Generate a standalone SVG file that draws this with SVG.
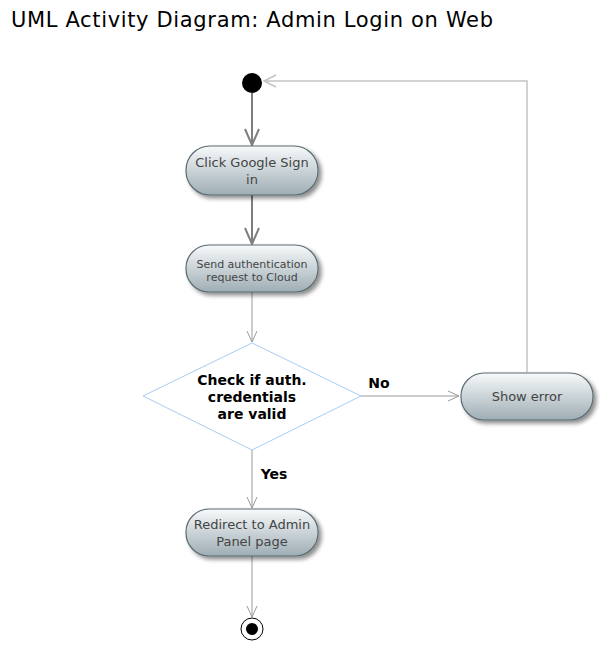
<svg xmlns="http://www.w3.org/2000/svg" width="602" height="647" viewBox="0 0 602 647">
<style>
text{font-family:"DejaVu Sans","Verdana",sans-serif;}
.title{font-size:21px;fill:#000;}
.act{fill:url(#g);stroke:#5b6b72;stroke-width:1.2;filter:url(#sh);}
.lbl{font-size:13px;fill:#444;text-anchor:middle;}
.lbls{font-size:11px;fill:#444;text-anchor:middle;}
.dec{font-size:14px;font-weight:bold;fill:#000;text-anchor:middle;}
.thick{stroke:#7f7f7f;stroke-width:2;fill:none;}
.thin{stroke:#9a9a9a;stroke-width:1;fill:none;}
.ret{stroke:#c4c4c4;stroke-width:1.5;fill:none;}
</style>
<defs>
<linearGradient id="g" x1="0" y1="0" x2="0" y2="1">
<stop offset="0" stop-color="#f7fafb"/>
<stop offset="1" stop-color="#9eadb4"/>
</linearGradient>
<filter id="sh" x="-20%" y="-30%" width="150%" height="170%">
<feGaussianBlur in="SourceAlpha" stdDeviation="2"/>
<feOffset dx="3" dy="3" result="b"/>
<feComponentTransfer><feFuncA type="linear" slope="0.45"/></feComponentTransfer>
<feMerge><feMergeNode/><feMergeNode in="SourceGraphic"/></feMerge>
</filter>
</defs>
<text class="title" x="11" y="27" textLength="482" lengthAdjust="spacing">UML Activity Diagram: Admin Login on Web</text>
<g id="connectors">
<path class="thick" d="M252 93 V145"/>
<path class="thick" d="M245 129 L252 145 L259 129"/>
<path class="thick" d="M252 195 V244"/>
<path class="thick" d="M245 228 L252 244 L259 228"/>
<path class="thin" d="M252 292 V342"/>
<path class="thin" d="M247 331 L252 342 L257 331"/>
<path class="thin" d="M361 396 H459"/>
<path class="thin" d="M448 391 L459 396 L448 401"/>
<path class="ret" d="M527 372 V81 H264"/>
<path class="ret" d="M276 75 L264 81 L276 87"/>
<path class="thin" d="M252 450 V508"/>
<path class="thin" d="M247 497 L252 508 L257 497"/>
<path class="thin" d="M252 556 V617"/>
<path class="thin" d="M247 606 L252 617 L257 606"/>
</g>
<g id="start"><circle cx="252" cy="83" r="10" fill="#000"/></g>
<g id="click">
<rect class="act" x="186" y="146" width="132" height="49" rx="24"/>
<text class="lbl" x="252" y="167">Click Google Sign</text>
<text class="lbl" x="252" y="184">in</text>
</g>
<g id="send">
<rect class="act" x="186" y="245" width="132" height="47" rx="23"/>
<text class="lbls" x="252" y="268">Send authentication</text>
<text class="lbls" x="252" y="281">request to Cloud</text>
</g>
<g id="decision">
<polygon points="252,343 361,396 252,450 143,396" fill="#fff" stroke="#a8ccf4" stroke-width="1"/>
<text class="dec" x="252" y="385">Check if auth.</text>
<text class="dec" x="252" y="402">credentials</text>
<text class="dec" x="252" y="419">are valid</text>
</g>
<text class="dec" x="379" y="388">No</text>
<text class="dec" x="274" y="479">Yes</text>
<g id="showerror">
<rect class="act" x="461" y="373" width="132" height="47" rx="23"/>
<text class="lbl" x="527" y="401">Show error</text>
</g>
<g id="redirect">
<rect class="act" x="186" y="509" width="132" height="47" rx="23"/>
<text class="lbl" x="252" y="529">Redirect to Admin</text>
<text class="lbl" x="252" y="546">Panel page</text>
</g>
<g id="end">
<circle cx="252" cy="629" r="11" fill="#fff" stroke="#000" stroke-width="1"/>
<circle cx="252" cy="629" r="6" fill="#000"/>
</g>
</svg>
